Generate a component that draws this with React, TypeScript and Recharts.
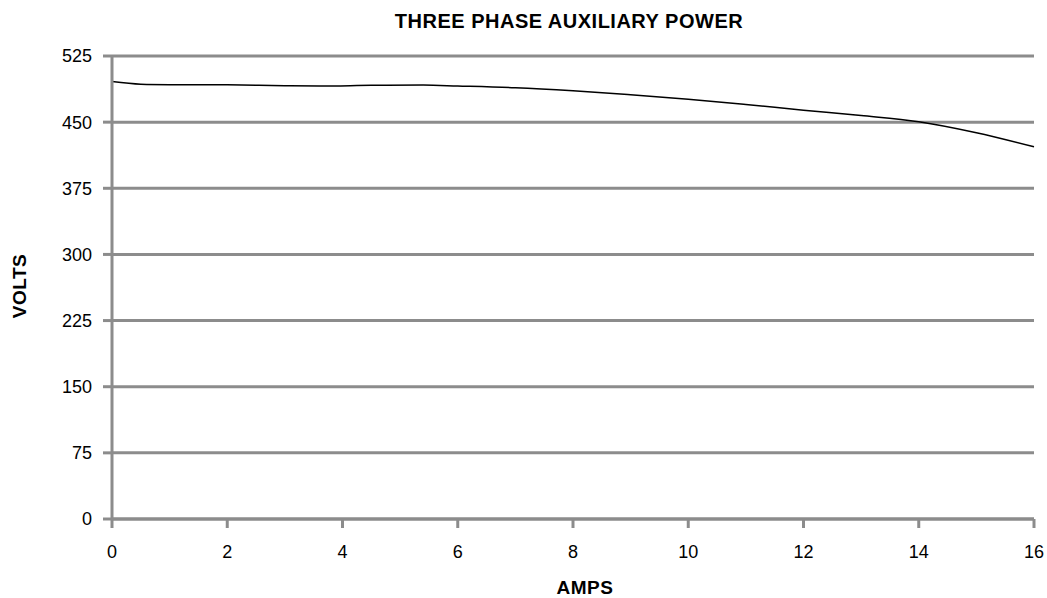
import { LineChart, Line, XAxis, YAxis, CartesianGrid, Label } from 'recharts'

const amps = [0, 0.5, 1, 2, 3, 3.6, 4.5, 5.4, 6, 7, 8, 9, 10, 11, 12, 13, 14, 15, 16]
const volts = [496, 493, 492.5, 492.3, 491.3, 491, 491.7, 492, 491, 489, 485.5, 481, 476, 470, 463.5, 457.5, 450.5, 438, 422]
const ampTicks = [0, 2, 4, 6, 8, 10, 12, 14, 16]
const voltTicks = [0, 75, 150, 225, 300, 375, 450, 525]

const data = amps.map((a, i) => ({ amps: a, volts: volts[i] }))

const FONT = '"Liberation Sans", Arial, Helvetica, sans-serif'
const GRAY = '#8c8c8c'

export default function App() {
    return (
        <div style={{ position: 'absolute', left: 0, top: 0, width: 1047, height: 598, background: '#fff', fontFamily: FONT }}>
            <div
                style={{
                    position: 'absolute',
                    left: 369,
                    width: 400,
                    top: 10,
                    textAlign: 'center',
                    fontSize: 20,
                    letterSpacing: 0.5,
                    fontWeight: 'bold',
                    color: '#000',
                }}
            >
                THREE PHASE AUXILIARY POWER
            </div>
            <LineChart width={1047} height={598} data={data} margin={{ top: 56, right: 13, bottom: 0, left: 0 }}>
                <CartesianGrid vertical={false} stroke={GRAY} strokeWidth={3} />
                <XAxis
                    dataKey="amps"
                    type="number"
                    domain={[0, 16]}
                    ticks={ampTicks}
                    height={79}
                    stroke={GRAY}
                    strokeWidth={3}
                    tickSize={9}
                    tickMargin={17}
                    tick={{ fill: '#000', fontSize: 18, fontFamily: FONT }}
                    tickLine={{ stroke: GRAY, strokeWidth: 3 }}
                >
                    <Label
                        value="AMPS"
                        position="insideBottom"
                        offset={4}
                        dx={12}
                        style={{ fill: '#000', fontSize: 19, letterSpacing: 0.5, fontWeight: 'bold', fontFamily: FONT }}
                    />
                </XAxis>
                <YAxis
                    type="number"
                    domain={[0, 525]}
                    ticks={voltTicks}
                    width={112}
                    stroke={GRAY}
                    strokeWidth={3}
                    tickSize={9}
                    tickMargin={11}
                    tick={{ fill: '#000', fontSize: 18, fontFamily: FONT }}
                    tickLine={{ stroke: GRAY, strokeWidth: 3 }}
                >
                    <Label
                        content={() => (
                            <text
                                x={19}
                                y={286}
                                transform="rotate(-90 19 286)"
                                textAnchor="middle"
                                dominantBaseline="central"
                                style={{ fill: '#000', fontSize: 19, letterSpacing: 0.5, fontWeight: 'bold', fontFamily: FONT }}
                            >
                                VOLTS
                            </text>
                        )}
                    />
                </YAxis>
                <Line
                    type="monotone"
                    dataKey="volts"
                    stroke="#000"
                    strokeWidth={1.5}
                    dot={false}
                    isAnimationActive={false}
                />
            </LineChart>
        </div>
    )
}
